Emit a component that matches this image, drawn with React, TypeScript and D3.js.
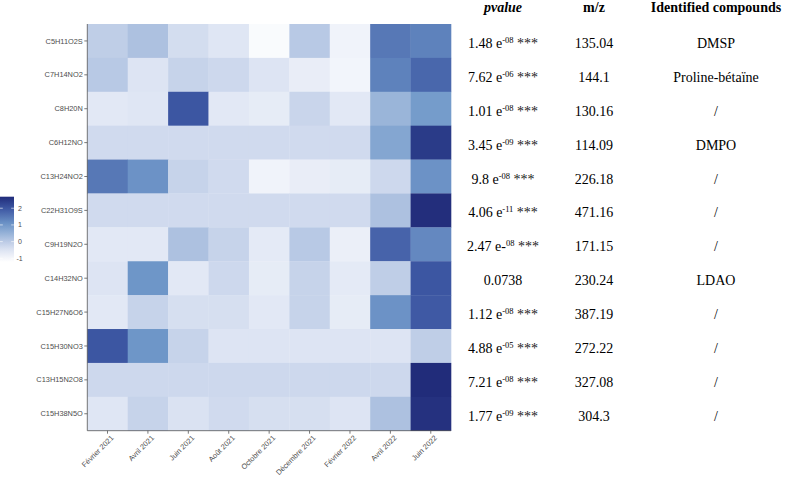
import React from 'react';
import * as d3 from 'd3';

const compounds = ['C5H11O2S', 'C7H14NO2', 'C8H20N', 'C6H12NO', 'C13H24NO2', 'C22H31O9S',
  'C9H19N2O', 'C14H32NO', 'C15H27N6O6', 'C15H30NO3', 'C13H15N2O8', 'C15H38N5O'];
const months = ['Février 2021', 'Avril 2021', 'Juin 2021', 'Août 2021', 'Octobre 2021',
  'Décembre 2021', 'Février 2022', 'Avril 2022', 'Juin 2022'];

// scaled intensity, one row per compound, one value per month
const zscores = [
  [-0.05, 0.2, -0.35, -0.55, -1.1, 0.05, -0.9, 1.5, 1.35],
  [0.05, -0.5, -0.15, -0.25, -0.5, -0.75, -0.95, 1.35, 1.75],
  [-0.6, -0.55, 2.0, -0.6, -0.7, -0.2, -0.6, 0.45, 0.95],
  [-0.3, -0.3, -0.3, -0.3, -0.3, -0.3, -0.3, 0.75, 2.45],
  [1.5, 1.1, -0.15, -0.3, -0.9, -0.75, -0.7, -0.25, 1.1],
  [-0.3, -0.3, -0.3, -0.3, -0.3, -0.3, -0.3, 0.2, 2.65],
  [-0.6, -0.6, 0.2, -0.15, -0.65, 0.05, -0.8, 1.8, 1.25],
  [-0.5, 1.05, -0.6, -0.25, -0.7, -0.15, -0.65, -0.05, 2.0],
  [-0.6, -0.15, -0.4, -0.4, -0.6, -0.15, -0.7, 1.1, 1.95],
  [2.0, 1.05, -0.15, -0.5, -0.5, -0.5, -0.5, -0.5, -0.05],
  [-0.25, -0.25, -0.25, -0.25, -0.25, -0.25, -0.25, -0.25, 2.7],
  [-0.55, -0.15, -0.45, -0.3, -0.4, -0.4, -0.5, 0.2, 2.6],
];

const pvalueBase = ['1.48 e', '7.62 e', '1.01 e', '3.45 e', '9.8 e', '4.06 e', '2.47 e-', '0.0738',
  '1.12 e', '4.88 e', '7.21 e', '1.77 e'];
const pvalueExp = ['-08', '-06', '-08', '-09', '-08', '-11', '08', '', '-08', '-05', '-08', '-09'];
const signif = ['***', '***', '***', '***', '***', '***', '***', '', '***', '***', '***', '***'];
const mz = ['135.04', '144.1', '130.16', '114.09', '226.18', '471.16', '171.15', '230.24',
  '387.19', '272.22', '327.08', '304.3'];
const identified = ['DMSP', 'Proline-bétaïne', '/', 'DMPO', '/', '/', '/', 'LDAO', '/', '/', '/', '/'];
const legendTicks = [2, 1, 0, -1];

const W = 785, H = 477;
const margin = { top: 24, left: 87.3, right: 451, bottom: 430.7 };
const sans = '"Liberation Sans", Arial, sans-serif';
const serif = '"Liberation Serif", "Times New Roman", serif';
const axisGrey = '#4d4d4d';

export default function App() {
  const x = d3.scaleBand().domain(months).range([margin.left, margin.right]);
  const y = d3.scaleBand().domain(compounds).range([margin.top, margin.bottom]);

  const zMin = -1.22, zMax = 2.69;
  const color = d3.scaleLinear<string>()
    .domain([zMin, -0.5, 0, 1, 2, zMax])
    .range(['#ffffff', '#dde4f3', '#bccbe6', '#7199ca', '#3c56a2', '#212c7a'])
    .clamp(true);

  const legendY = d3.scaleLinear().domain([zMin, zMax]).range([262, 196.7]);
  const stops = d3.range(0, 1.0001, 0.1);

  const col = { p: 503, mz: 594, id: 716 };

  return (
    <svg width={W} height={H} style={{ position: 'absolute', left: 0, top: 0, background: '#fff' }}>
      <defs>
        <linearGradient id="legend-grad" x1="0" y1="1" x2="0" y2="0">
          {stops.map(t => (
            <stop key={t} offset={`${t * 100}%`} stopColor={color(zMin + t * (zMax - zMin))} />
          ))}
        </linearGradient>
      </defs>

      {/* heatmap cells */}
      <g>
        {compounds.map((c, i) => months.map((m, j) => (
          <rect key={c + m} x={x(m)} y={y(c)} width={x.bandwidth() + 0.3} height={y.bandwidth() + 0.3}
            fill={color(zscores[i][j])} />
        )))}
      </g>

      {/* axes */}
      <line x1={margin.left} x2={margin.left} y1={margin.top} y2={margin.bottom} stroke="#555" strokeWidth={0.8} />
      <line x1={margin.left} x2={margin.right} y1={margin.bottom} y2={margin.bottom} stroke="#555" strokeWidth={0.8} />
      {compounds.map(c => {
        const cy = y(c)! + y.bandwidth() / 2;
        return (
          <g key={c}>
            <line x1={margin.left - 3} x2={margin.left} y1={cy} y2={cy} stroke="#555" strokeWidth={0.8} />
            <text x={margin.left - 4.5} y={cy} dy="0.35em" textAnchor="end" fontFamily={sans} fontSize={7.4}
              fill={axisGrey}>{c}</text>
          </g>
        );
      })}
      {months.map(m => {
        const cx = x(m)! + x.bandwidth() / 2;
        return (
          <g key={m}>
            <line x1={cx} x2={cx} y1={margin.bottom} y2={margin.bottom + 3} stroke="#555" strokeWidth={0.8} />
            <text transform={`translate(${cx + 3},${margin.bottom + 4}) rotate(-45)`} dy="0.7em" textAnchor="end"
              fontFamily={sans} fontSize={7.4} fill={axisGrey}>{m}</text>
          </g>
        );
      })}

      {/* legend */}
      <rect x={0} y={legendY(zMax)} width={14} height={legendY(zMin) - legendY(zMax)} fill="url(#legend-grad)" />
      {legendTicks.map(t => (
        <g key={t}>
          <line x1={0} x2={2.8} y1={legendY(t)} y2={legendY(t)} stroke="#fff" strokeWidth={0.6} />
          <line x1={11.2} x2={14} y1={legendY(t)} y2={legendY(t)} stroke="#fff" strokeWidth={0.6} />
          <text x={t < 0 ? 16.5 : 18} y={legendY(t)} dy="0.35em" fontFamily={sans} fontSize={7} fill={axisGrey}>{t}</text>
        </g>
      ))}

      {/* table */}
      <g fontFamily={serif} fontSize={14} fontWeight="bold" textAnchor="middle" fill="#000">
        <text x={col.p} y={12} fontStyle="italic">pvalue</text>
        <text x={col.mz} y={12}>m/z</text>
        <text x={col.id} y={12}>Identified compounds</text>
      </g>
      <g fontFamily={serif} fontSize={14} textAnchor="middle" fill="#000">
        {compounds.map((c, i) => {
          const cy = y(c)! + y.bandwidth() / 2 + 7;
          return (
            <g key={c}>
              <text x={col.p} y={cy}>
                {pvalueBase[i]}
                {pvalueExp[i] && <tspan fontSize={8.5} dy={-5}>{pvalueExp[i]}</tspan>}
                {signif[i] && <tspan dy={pvalueExp[i] ? 5 : 0} fill="#222">{' ' + signif[i]}</tspan>}
              </text>
              <text x={col.mz} y={cy}>{mz[i]}</text>
              <text x={col.id} y={cy}>{identified[i]}</text>
            </g>
          );
        })}
      </g>
    </svg>
  );
}
